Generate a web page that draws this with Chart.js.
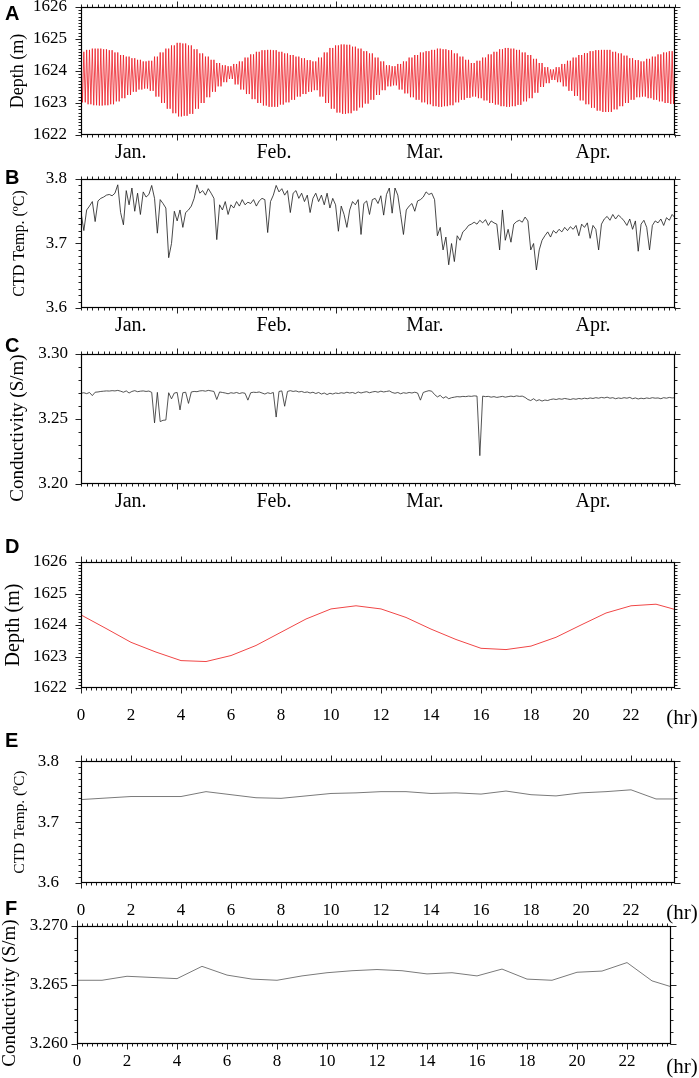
<!DOCTYPE html>
<html>
<head>
<meta charset="utf-8">
<title>Depth, temperature and conductivity record</title>
<script src="https://cdn.jsdelivr.net/npm/chart.js@4.4.1/dist/chart.umd.min.js"></script>
<style>
  html, body { margin: 0; padding: 0; background: #fff; }
  body { position: relative; width: 699px; height: 1078px; overflow: hidden; }
  canvas { position: absolute; left: 0; }
</style>
</head>
<body>
<canvas id="cA"></canvas>
<canvas id="cB"></canvas>
<canvas id="cC"></canvas>
<canvas id="cD"></canvas>
<canvas id="cE"></canvas>
<canvas id="cF"></canvas>
<script>
/* =========================
   DATA
========================= */
// month axis: days counted from Jan 1 (day 0)
const monthLabels = ['Jan.', 'Feb.', 'Mar.', 'Apr.'];
const monthLabelDays = [22.8, 48.1, 74.8, 104.5];
const monthStartDays = [31, 59, 90];

// A: daily high / low water depth (m), day 14 .. 119
const depthDayStart = 14;
const depthHigh = [
  1624.60, 1624.66, 1624.70, 1624.70, 1624.68, 1624.65, 1624.58, 1624.50, 1624.45, 1624.40,
  1624.35, 1624.30, 1624.32, 1624.45, 1624.58, 1624.70, 1624.80, 1624.88, 1624.86, 1624.80,
  1624.68, 1624.55, 1624.45, 1624.35, 1624.25, 1624.18, 1624.15, 1624.22, 1624.30, 1624.42,
  1624.52, 1624.60, 1624.65, 1624.66, 1624.65, 1624.60, 1624.55, 1624.50, 1624.45, 1624.40,
  1624.34, 1624.30, 1624.42, 1624.58, 1624.72, 1624.80, 1624.83, 1624.82, 1624.76, 1624.70,
  1624.62, 1624.55, 1624.42, 1624.30, 1624.18, 1624.15, 1624.22, 1624.30, 1624.42, 1624.50,
  1624.58, 1624.62, 1624.66, 1624.70, 1624.68, 1624.65, 1624.55, 1624.45, 1624.35, 1624.25,
  1624.32, 1624.42, 1624.52, 1624.60, 1624.68, 1624.72, 1624.70, 1624.66, 1624.58, 1624.50,
  1624.38, 1624.25, 1624.12, 1624.05, 1624.12, 1624.22, 1624.32, 1624.42, 1624.50, 1624.56,
  1624.62, 1624.65, 1624.66, 1624.66, 1624.60, 1624.55, 1624.48, 1624.40, 1624.34, 1624.30,
  1624.38, 1624.45, 1624.52, 1624.58, 1624.62, 1624.62
];
const depthLow = [
  1623.02, 1622.96, 1622.93, 1622.92, 1622.93, 1622.96, 1623.05, 1623.15, 1623.25, 1623.35,
  1623.42, 1623.45, 1623.38, 1623.20, 1623.00, 1622.82, 1622.68, 1622.58, 1622.60, 1622.66,
  1622.82, 1623.00, 1623.18, 1623.35, 1623.52, 1623.65, 1623.75, 1623.58, 1623.42, 1623.28,
  1623.12, 1623.00, 1622.92, 1622.88, 1622.88, 1622.95, 1623.02, 1623.10, 1623.20, 1623.28,
  1623.35, 1623.40, 1623.20, 1623.00, 1622.82, 1622.70, 1622.66, 1622.68, 1622.76, 1622.86,
  1622.98, 1623.10, 1623.25, 1623.40, 1623.52, 1623.55, 1623.42, 1623.30, 1623.18, 1623.10,
  1623.02, 1622.96, 1622.90, 1622.88, 1622.90, 1622.93, 1623.02, 1623.10, 1623.16, 1623.20,
  1623.15, 1623.08, 1623.00, 1622.95, 1622.90, 1622.88, 1622.90, 1622.94, 1623.05, 1623.15,
  1623.32, 1623.50, 1623.62, 1623.72, 1623.65, 1623.52, 1623.38, 1623.22, 1623.08, 1622.96,
  1622.85, 1622.76, 1622.72, 1622.72, 1622.80, 1622.90, 1623.00, 1623.10, 1623.18, 1623.20,
  1623.15, 1623.10, 1623.05, 1623.00, 1622.97, 1622.95
];

// B, C: half-daily samples, day 14.0 .. 119.0 (each row = 5 days)
const sampleStart = 14;
const sampleStep = 0.5;
const tempB = [
  3.748, 3.720, 3.752, 3.758, 3.765, 3.734, 3.766, 3.770, 3.772, 3.775,
  3.776, 3.774, 3.778, 3.791, 3.748, 3.729, 3.782, 3.760, 3.786, 3.750,
  3.778, 3.745, 3.780, 3.772, 3.776, 3.790, 3.770, 3.716, 3.768, 3.762,
  3.755, 3.678, 3.700, 3.750, 3.735, 3.752, 3.725, 3.748, 3.752, 3.758,
  3.770, 3.791, 3.778, 3.782, 3.775, 3.785, 3.778, 3.770, 3.706, 3.760,
  3.752, 3.765, 3.745, 3.760, 3.755, 3.765, 3.758, 3.768, 3.760, 3.764,
  3.762, 3.768, 3.758, 3.766, 3.770, 3.768, 3.717, 3.765, 3.775, 3.790,
  3.780, 3.785, 3.775, 3.782, 3.748, 3.778, 3.782, 3.770, 3.778, 3.765,
  3.775, 3.748, 3.770, 3.778, 3.765, 3.775, 3.760, 3.778, 3.755, 3.770,
  3.760, 3.719, 3.758, 3.745, 3.725, 3.752, 3.765, 3.760, 3.768, 3.714,
  3.762, 3.766, 3.745, 3.768, 3.770, 3.762, 3.774, 3.744, 3.776, 3.786,
  3.747, 3.786, 3.775, 3.745, 3.714, 3.752, 3.758, 3.762, 3.750, 3.766,
  3.768, 3.772, 3.780, 3.776, 3.778, 3.768, 3.712, 3.725, 3.690, 3.710,
  3.667, 3.700, 3.672, 3.712, 3.705, 3.718, 3.722, 3.728, 3.730, 3.733,
  3.730, 3.736, 3.732, 3.737, 3.728, 3.735, 3.732, 3.730, 3.690, 3.752,
  3.705, 3.722, 3.702, 3.730, 3.734, 3.736, 3.733, 3.741, 3.735, 3.690,
  3.700, 3.659, 3.690, 3.705, 3.712, 3.718, 3.710, 3.720, 3.716, 3.722,
  3.718, 3.725, 3.720, 3.726, 3.722, 3.728, 3.712, 3.730, 3.725, 3.732,
  3.708, 3.728, 3.722, 3.690, 3.730, 3.738, 3.742, 3.736, 3.745, 3.738,
  3.744, 3.740, 3.735, 3.728, 3.738, 3.722, 3.735, 3.688, 3.730, 3.736,
  3.725, 3.690, 3.728, 3.735, 3.732, 3.738, 3.728, 3.740, 3.736, 3.745,
  3.740
];
const condC = [
  3.2698, 3.2702, 3.2695, 3.2704, 3.2680, 3.2706, 3.2708, 3.2712, 3.2714, 3.2716,
  3.2715, 3.2718, 3.2716, 3.2720, 3.2714, 3.2706, 3.2716, 3.2700, 3.2712, 3.2718,
  3.2710, 3.2714, 3.2716, 3.2712, 3.2715, 3.2705, 3.2470, 3.2705, 3.2480, 3.2490,
  3.2492, 3.2702, 3.2655, 3.2700, 3.2704, 3.2570, 3.2702, 3.2706, 3.2620, 3.2708,
  3.2712, 3.2710, 3.2716, 3.2718, 3.2714, 3.2720, 3.2716, 3.2712, 3.2650, 3.2708,
  3.2704, 3.2700, 3.2694, 3.2702, 3.2698, 3.2704, 3.2696, 3.2702, 3.2698, 3.2645,
  3.2702, 3.2706, 3.2704, 3.2708, 3.2700, 3.2692, 3.2702, 3.2696, 3.2704, 3.2515,
  3.2712, 3.2716, 3.2598, 3.2712, 3.2718, 3.2712, 3.2716, 3.2708, 3.2712, 3.2704,
  3.2708, 3.2700, 3.2706, 3.2696, 3.2704, 3.2692, 3.2700, 3.2688, 3.2698, 3.2692,
  3.2700, 3.2696, 3.2702, 3.2698, 3.2706, 3.2700, 3.2704, 3.2696, 3.2708, 3.2700,
  3.2706, 3.2710, 3.2702, 3.2708, 3.2712, 3.2706, 3.2714, 3.2708, 3.2712, 3.2716,
  3.2704, 3.2698, 3.2704, 3.2694, 3.2702, 3.2698, 3.2704, 3.2700, 3.2706, 3.2700,
  3.2645, 3.2704, 3.2712, 3.2718, 3.2714, 3.2688, 3.2670, 3.2682, 3.2660, 3.2672,
  3.2656, 3.2664, 3.2668, 3.2672, 3.2670, 3.2674, 3.2672, 3.2676, 3.2674, 3.2678,
  3.2676, 3.2218, 3.2676, 3.2672, 3.2674, 3.2668, 3.2672, 3.2666, 3.2670, 3.2674,
  3.2668, 3.2672, 3.2676, 3.2672, 3.2678, 3.2674, 3.2676, 3.2666, 3.2650, 3.2642,
  3.2656, 3.2640, 3.2648, 3.2638, 3.2646, 3.2642, 3.2650, 3.2654, 3.2650, 3.2656,
  3.2652, 3.2658, 3.2654, 3.2650, 3.2656, 3.2652, 3.2658, 3.2654, 3.2660, 3.2656,
  3.2662, 3.2658, 3.2664, 3.2660, 3.2666, 3.2662, 3.2668, 3.2660, 3.2664, 3.2656,
  3.2662, 3.2658, 3.2664, 3.2660, 3.2666, 3.2656, 3.2662, 3.2654, 3.2660, 3.2656,
  3.2662, 3.2658, 3.2664, 3.2660, 3.2662, 3.2656, 3.2664, 3.2660, 3.2666, 3.2662,
  3.2664
];

// D, E, F: one day, hourly
const hours = [0, 1, 2, 3, 4, 5, 6, 7, 8, 9, 10, 11, 12, 13, 14, 15, 16, 17, 18, 19, 20, 21, 22, 23, 24];
const hourTicks = [0, 2, 4, 6, 8, 10, 12, 14, 16, 18, 20, 22];
const depthHour = [1624.32, 1623.89, 1623.45, 1623.14, 1622.87, 1622.84, 1623.03, 1623.35, 1623.77, 1624.19,
  1624.51, 1624.61, 1624.51, 1624.24, 1623.87, 1623.54, 1623.26, 1623.22, 1623.33, 1623.61,
  1624.00, 1624.38, 1624.61, 1624.66, 1624.44];
const tempHour = [3.737, 3.7395, 3.742, 3.742, 3.742, 3.750, 3.745, 3.740, 3.739, 3.743,
  3.747, 3.748, 3.750, 3.750, 3.747, 3.748, 3.746, 3.751, 3.745, 3.743,
  3.748, 3.750, 3.753, 3.738, 3.738];
const condHour = [3.26540, 3.26540, 3.26574, 3.26564, 3.26554, 3.26658, 3.26584, 3.26550, 3.26540, 3.26577,
  3.26604, 3.26621, 3.26631, 3.26621, 3.26594, 3.26604, 3.26577, 3.26635, 3.26550, 3.26540,
  3.26608, 3.26618, 3.26690, 3.26535, 3.26470];

/* =========================
   SERIES
========================= */
const depthPoints = [];
depthHigh.forEach((hi, i) => {
  const d = depthDayStart + i;
  depthPoints.push({ x: d, y: hi }, { x: d + 0.25, y: depthLow[i] },
                   { x: d + 0.5, y: hi }, { x: d + 0.75, y: depthLow[i] });
});
const halfDays = tempB.map((_, i) => sampleStart + i * sampleStep);
const tempPoints = tempB.map((v, i) => ({ x: halfDays[i], y: v }));
const condPoints = condC.map((v, i) => ({ x: halfDays[i], y: v }));
const zipHours = vals => vals.map((v, i) => ({ x: hours[i], y: v }));

function steps(a, b, s) {
  const out = [];
  const n = Math.round((b - a) / s);
  for (let i = 0; i <= n; i++) out.push(+(a + i * s).toFixed(6));
  return out;
}

/* =========================
   FRAME / TICKS / TITLES
========================= */
const framePlugin = {
  id: 'frame',
  afterDraw(chart) {
    const o = chart.options.plugins.frame;
    const { ctx, chartArea: a } = chart;
    const xs = chart.scales.x, ys = chart.scales.y;
    const L = Math.round(a.left) + 0.5, R = Math.round(a.right) - 0.5;
    const T = Math.round(a.top) + 0.5, B = Math.round(a.bottom) - 0.5;
    ctx.save();
    ctx.strokeStyle = '#222';
    ctx.lineWidth = 1;
    ctx.beginPath();
    const xt = (v, len) => {
      const px = Math.round(xs.getPixelForValue(v)) + 0.5;
      ctx.moveTo(px, T); ctx.lineTo(px, T - len);
      ctx.moveTo(px, B); ctx.lineTo(px, B + len);
    };
    const yt = (v, len) => {
      const py = Math.round(ys.getPixelForValue(v)) + 0.5;
      ctx.moveTo(L, py); ctx.lineTo(L - len, py);
      ctx.moveTo(R, py); ctx.lineTo(R + len, py);
    };
    o.xMinor.forEach(v => xt(v, 3));
    o.xMajor.forEach(v => xt(v, 6));
    o.yMinor.forEach(v => yt(v, 3));
    o.yMajor.forEach(v => yt(v, 6));
    ctx.stroke();

    ctx.strokeStyle = '#000';
    ctx.lineWidth = 1.2;
    ctx.strokeRect(L, T, R - L, B - T);

    ctx.fillStyle = '#000';
    ctx.font = 'bold 20px "Liberation Sans"';
    ctx.textAlign = 'left';
    ctx.textBaseline = 'top';
    ctx.fillText(o.letter, 5, o.letterY);

    ctx.font = o.titleSize + 'px "Liberation Serif"';
    ctx.textAlign = 'center';
    ctx.textBaseline = 'middle';
    ctx.save();
    ctx.translate(o.titleX, (a.top + a.bottom) / 2 + o.titleShift);
    ctx.rotate(-Math.PI / 2);
    ctx.fillText(o.title, 0, 0);
    ctx.restore();

    if (o.unit) {
      ctx.font = '21px "Liberation Serif"';
      ctx.fillText(o.unit, 682, a.bottom + o.unitOff);
    }
    ctx.restore();
  }
};

/* =========================
   PANELS
========================= */
const W = 699, PADT = 28, PADB = 50;
const dayTicks = steps(14, 119, 1);
const panels = [
  { id: 'A', top: 7, bottom: 135, left: 81, right: 675, kind: 'month', letterTop: 8, xPad: 6,
    y: [1622, 1626, 1, 0.1, 0], labelPad: 14, title: 'Depth (m)', titleSize: 18, titleX: 18, titleShift: 0,
    data: depthPoints, color: 'rgb(236,28,36)', width: 0.8 },
  { id: 'B', top: 179, bottom: 308, left: 81, right: 675, kind: 'month', letterTop: 172, xPad: 6,
    y: [3.6, 3.8, 0.1, 0.01, 1], labelPad: 14, title: 'CTD Temp. (\u00baC)', titleSize: 16, titleX: 20, titleShift: 0,
    data: tempPoints, color: '#1a1a1a', width: 0.8 },
  { id: 'C', top: 354, bottom: 484, left: 81, right: 675, kind: 'month', letterTop: 340, xPad: 6,
    y: [3.20, 3.30, 0.05, 0.01, 2], labelPad: 13, title: 'Conductivity (S/m)', titleSize: 19, titleX: 18, titleShift: 9,
    data: condPoints, color: '#2a2a2a', width: 0.8 },
  { id: 'D', top: 562, bottom: 688, left: 81, right: 675, kind: 'hour', letterTop: 541, xPad: 17, unitOff: 30,
    y: [1622, 1626, 1, 0.1, 0], labelPad: 14, title: 'Depth (m)', titleSize: 20, titleX: 14, titleShift: 0,
    data: zipHours(depthHour), color: 'rgb(240,70,70)', width: 1 },
  { id: 'E', top: 757, bottom: 883, left: 81, right: 675, kind: 'hour', letterTop: 735, xPad: 17, unitOff: 30,
    y: [3.6, 3.8, 0.1, 0.01, 1], labelPad: 22, title: 'CTD Temp. (\u00baC)', titleSize: 15.5, titleX: 20, titleShift: 0,
    data: zipHours(tempHour), color: '#7a7a7a', width: 1 },
  { id: 'F', top: 926, bottom: 1044, left: 77, right: 671, kind: 'hour', letterTop: 903, xPad: 7, unitOff: 23,
    y: [3.260, 3.270, 0.005, 0.001, 3], labelPad: 9, title: 'Conductivity (S/m)', titleSize: 19, titleX: 10, titleShift: 8,
    data: zipHours(condHour), color: '#7a7a7a', width: 1 }
];

function makePanel(p) {
  const h = p.bottom - p.top;
  const cv = document.getElementById('c' + p.id);
  const canvasTop = p.top - PADT;
  cv.width = W;
  cv.height = PADT + h + PADB;
  cv.style.top = canvasTop + 'px';
  const [ymin, ymax, ystep, yminor, ydec] = p.y;
  const month = p.kind === 'month';
  const xMin = month ? 14 : 0;
  const xMax = month ? 119 : 23.76;
  const labelVals = month ? monthLabelDays : hourTicks;

  new Chart(cv, {
    type: 'line',
    data: {
      datasets: [{
        data: p.data,
        borderColor: p.color,
        borderWidth: p.width,
        pointRadius: 0,
        tension: 0,
        fill: false
      }]
    },
    options: {
      responsive: false,
      animation: false,
      events: [],
      layout: { padding: { top: PADT, right: W - p.right, left: 0, bottom: 0 } },
      plugins: {
        legend: { display: false },
        tooltip: { enabled: false },
        frame: {
          letter: p.id,
          letterY: p.letterTop - canvasTop - 4,
          title: p.title, titleSize: p.titleSize, titleX: p.titleX, titleShift: p.titleShift,
          unit: month ? null : '(hr)', unitOff: p.unitOff,
          xMinor: month ? dayTicks : steps(0, 23.6, 0.2),
          xMajor: month ? monthStartDays : hourTicks,
          yMinor: steps(ymin, ymax, yminor),
          yMajor: steps(ymin, ymax, ystep)
        }
      },
      scales: {
        x: {
          type: 'linear', min: xMin, max: xMax,
          grid: { display: false, drawTicks: false },
          border: { display: false },
          afterFit(s) { s.height = PADB; },
          afterBuildTicks(s) { s.ticks = labelVals.map(v => ({ value: v })); },
          ticks: {
            autoSkip: false, maxRotation: 0, minRotation: 0,
            padding: p.xPad,
            color: '#000',
            font: { family: 'Liberation Serif', size: month ? 20 : 17 },
            callback: (v, i) => month ? monthLabels[i] : String(v)
          }
        },
        y: {
          type: 'linear', min: ymin, max: ymax,
          grid: { display: false, drawTicks: false },
          border: { display: false },
          afterFit(s) { s.width = p.left; },
          afterBuildTicks(s) { s.ticks = steps(ymin, ymax, ystep).map(v => ({ value: v })); },
          ticks: {
            padding: p.labelPad,
            color: '#000',
            font: { family: 'Liberation Serif', size: 17 },
            callback: v => Number(v).toFixed(ydec)
          }
        }
      }
    },
    plugins: [framePlugin]
  });
}

panels.forEach(makePanel);
</script>
</body>
</html>
